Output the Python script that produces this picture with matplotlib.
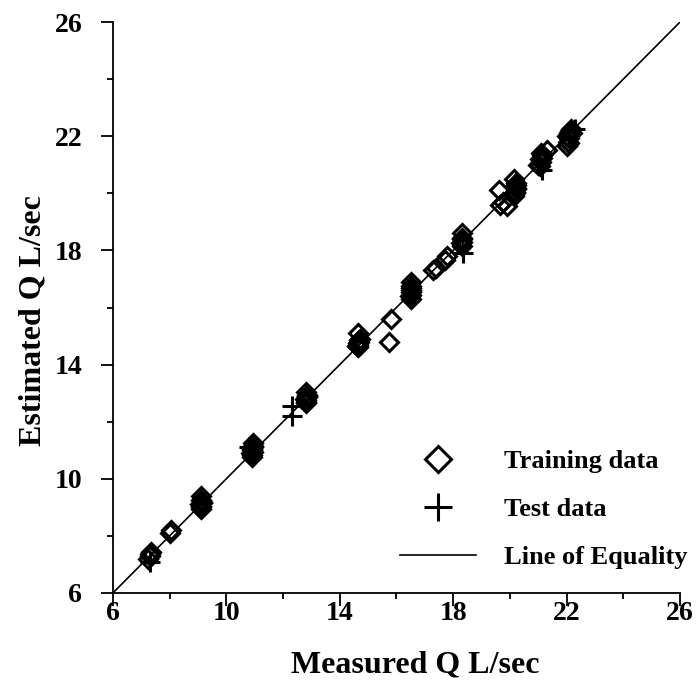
import matplotlib.pyplot as plt
import numpy as np

# measured vs estimated discharge (L/sec)
train_measured = [7.25, 7.3, 7.35, 7.3, 8.0, 8.05,
                  9.1, 9.1, 9.15, 9.1, 9.12, 9.08, 9.1, 9.13,
                  10.9, 10.92, 10.95, 10.9, 10.93, 10.95, 10.88, 10.9, 10.94,
                  12.8, 12.82, 12.85, 12.83, 12.8, 12.78, 12.82, 12.84,
                  14.65, 14.65, 14.68, 14.7, 14.65, 14.62, 14.66, 14.68,
                  15.8, 15.75,
                  16.5, 16.5, 16.52, 16.5, 16.5, 16.48, 16.5, 16.53,
                  17.3, 17.4, 17.7, 17.8,
                  18.3, 18.3, 18.32, 18.3, 18.28, 18.31,
                  19.6, 19.65, 19.75, 19.9,
                  20.15, 20.18, 20.2, 20.2, 20.15, 20.22, 20.17, 20.2,
                  21.05, 21.1, 21.12, 21.1, 21.3, 21.0, 21.08, 21.15,
                  22.0, 22.05, 22.1, 22.1, 22.15, 22.0, 22.2, 22.08, 22.12]
train_estimated = [7.2, 7.35, 7.45, 7.3, 8.1, 8.2,
                   8.95, 9.05, 9.15, 9.25, 9.4, 9.1, 9.0, 9.2,
                   10.75, 10.85, 10.95, 11.05, 11.15, 11.25, 10.9, 11.0, 11.1,
                   12.65, 12.75, 12.85, 12.95, 13.05, 12.8, 12.7, 12.9,
                   14.6, 14.7, 14.8, 14.9, 15.1, 14.65, 14.75, 14.85,
                   15.6, 14.8,
                   16.3, 16.45, 16.6, 16.75, 16.9, 16.4, 16.55, 16.7,
                   17.3, 17.4, 17.65, 17.8,
                   18.15, 18.3, 18.45, 18.6, 18.25, 18.4,
                   20.1, 19.6, 19.7, 19.55,
                   19.9, 20.05, 20.2, 20.35, 20.5, 20.15, 20.0, 20.3,
                   20.95, 21.1, 21.25, 21.4, 21.5, 21.0, 21.2, 21.35,
                   21.65, 21.8, 21.95, 22.1, 22.25, 22.0, 22.1, 21.75, 22.2]

test_measured = [7.3, 10.8, 12.3, 12.3, 18.35, 21.15, 22.3]
test_estimated = [7.1, 11.1, 12.2, 12.55, 17.9, 20.8, 22.25]

equality = [6, 26]

plt.rcParams['font.family'] = ['Liberation Serif', 'DejaVu Serif']
plt.rcParams['font.weight'] = 'bold'

fig = plt.figure(figsize=(6.97, 6.95), dpi=100)
ax = fig.add_axes([0.162, 0.1468, 0.8136, 0.8215])

ax.plot(train_measured, train_estimated, linestyle='none', marker='D',
        markersize=9, markerfacecolor='none', markeredgecolor='black',
        markeredgewidth=2.2, label='Training data', zorder=3)
ax.plot(test_measured, test_estimated, linestyle='none', marker='+',
        markersize=14, markeredgecolor='black', markeredgewidth=2.2,
        label='Test data', zorder=4)
ax.plot(equality, equality, color='black', linewidth=1.2,
        label='Line of Equality', zorder=2)

ax.set_xlim(6, 26)
ax.set_ylim(6, 26)
ax.set_xticks(np.arange(6, 27, 4))
ax.set_yticks(np.arange(6, 27, 4))
ax.set_xticks(np.arange(8, 26, 4), minor=True)
ax.set_yticks(np.arange(8, 26, 4), minor=True)
ax.tick_params(which='major', direction='out', length=9, width=1.3,
               labelsize=20)
ax.tick_params(axis='x', which='major', pad=-3)
ax.tick_params(axis='y', which='major', pad=13)
ax.tick_params(which='minor', direction='out', length=4, width=1.3)
for lab in ax.get_xticklabels() + ax.get_yticklabels():
    lab.set_fontweight('bold')

ax.spines['top'].set_visible(False)
ax.spines['right'].set_visible(False)
ax.spines['left'].set_linewidth(1.3)
ax.spines['bottom'].set_linewidth(1.3)

ax.set_xlabel('Measured Q L/sec', fontsize=23, fontweight='bold')
ax.set_ylabel('Estimated Q L/sec', fontsize=23, fontweight='bold')
ax.xaxis.set_label_coords(0.534, -0.1)
ax.yaxis.set_label_coords(-0.115, 0.478)

leg = ax.legend(loc='lower left', bbox_to_anchor=(0.506, 0.042), frameon=False,
                fontsize=19, handlelength=2.9, handletextpad=1.05,
                labelspacing=0.92, borderpad=0, borderaxespad=0,
                markerscale=1.45)
for t in leg.get_texts():
    t.set_fontweight('bold')

fig.savefig('out.png', dpi=100)
